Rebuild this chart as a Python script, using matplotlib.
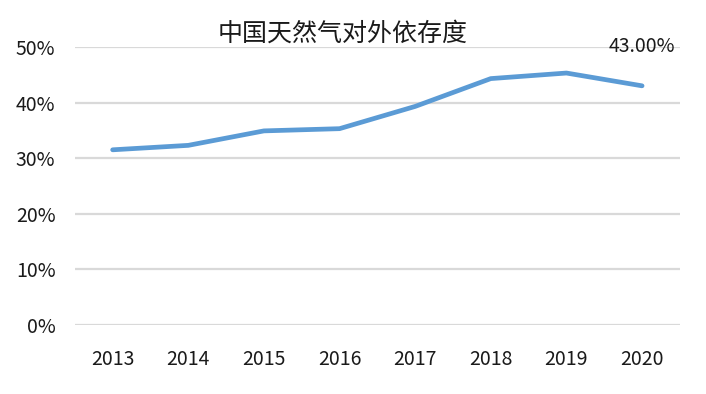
import matplotlib
matplotlib.use("Agg")
import matplotlib.pyplot as plt
from matplotlib.ticker import FuncFormatter

plt.rcParams['font.family'] = ['Noto Sans CJK SC', 'DejaVu Sans']

# 中国天然气对外依存度 (%)
years = ["2013", "2014", "2015", "2016", "2017", "2018", "2019", "2020"]
dependence = [31.5, 32.3, 34.9, 35.3, 39.3, 44.3, 45.3, 43.0]
title = "中国天然气对外依存度"

fig = plt.figure(figsize=(7.06, 3.94), dpi=100)
ax = fig.add_axes([0.106, 0.175, 0.857, 0.706])

x = range(len(years))
ax.plot(x, dependence, color="#5B9BD5", linewidth=3.4, solid_capstyle="round",
        solid_joinstyle="round", zorder=3)

ax.set_xlim(-0.5, len(years) - 0.5)
ax.set_ylim(0, 50)
ax.set_yticks(range(0, 51, 10))
ax.yaxis.set_major_formatter(FuncFormatter(lambda v, _: f"{v:.0f}%"))
ax.set_xticks(list(x))
ax.set_xticklabels(years)

ax.grid(axis="y", color="#D9D9D9", linewidth=1.6)
ax.set_axisbelow(True)
for s in ax.spines.values():
    s.set_visible(False)
ax.tick_params(axis="both", length=0, labelsize=14, colors="#1a1a1a")
ax.tick_params(axis="x", pad=17)
ax.tick_params(axis="y", pad=14)

# label on last point
ax.annotate(f"{dependence[-1]:.2f}%", (x[-1], dependence[-1]),
            xytext=(0, 39), textcoords="offset pixels",
            ha="center", va="center", fontsize=14, color="#1a1a1a")

fig.text(0.485, 0.915, title, ha="center", va="center", fontsize=18,
         color="#1a1a1a")

fig.savefig("out.png", dpi=100)
